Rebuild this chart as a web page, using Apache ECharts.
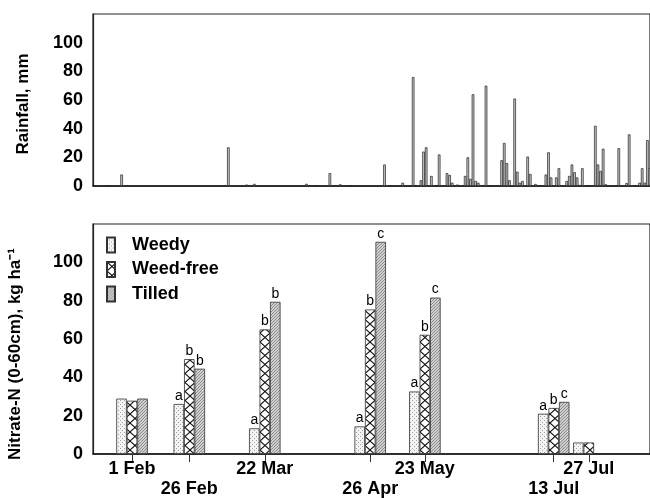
<!DOCTYPE html>
<html>
<head>
  <meta charset="utf-8">
  <title>Rainfall and nitrate-N</title>
  <script src="https://cdn.jsdelivr.net/npm/echarts@6/dist/echarts.min.js"></script>
  <style>
    html, body {
      margin: 0;
      padding: 0;
      background: #fff;
    }
  </style>
</head>
<body>
  <div id="main" style="width: 650px;height: 498px;"></div>
  <script>
    // daily rainfall, day of year and mm
    var rainDay = [23, 28, 69, 76, 79, 99, 103, 108, 112, 116, 129, 136, 140, 141, 143,
      144, 145, 147, 149, 150, 153, 154, 155, 157, 160, 161, 162, 163, 164, 165,
      168, 169, 174, 175, 176, 177, 179, 180, 181, 182, 184, 185, 187, 191, 192,
      193, 195, 196, 199, 200, 201, 202, 203, 204, 205, 207, 210, 211, 212, 213,
      214, 219, 222, 223, 227, 228, 229, 230, 231];
    var rainMm = [0.5, 8, 27, 1, 1.5, 1.5, 0.5, 9, 1.2, 0.5, 15, 2.3, 76, 0.5, 4,
      24, 27, 7, 0.5, 22, 9, 7.7, 2.3, 1, 7, 20, 5, 64, 3.5, 2.3,
      70, 0.5, 18, 30, 16, 4, 61, 10, 2.3, 3.5, 20.5, 8.4, 1.4, 8, 23.5,
      6, 6, 12.4, 3.5, 7, 15, 9.6, 6, 0.7, 12.4, 0.5, 42, 15, 10.5, 26,
      1.2, 26.4, 2, 36, 2.3, 12.4, 2.3, 32, 12.4];

    // soil sampling dates, placed on the season axis (day of year) as drawn
    var sampleLabels = ['1 Feb', '26 Feb', '22 Mar', '26 Apr', '23 May', '13 Jul', '27 Jul'];
    var sampleDay = [32, 54, 83, 123.5, 144.5, 194, 207.5];

    var weedy = [28.9, 26.1, 13.4, 14.4, 32.6, 21, 6];
    var weedFree = [27.8, 49.5, 65, 75.4, 62.2, 24, 6];
    var tilled = [28.9, 44.5, 79.4, 110.7, 81.6, 27.2, null];

    var weedyLetters = ['', 'a', 'a', 'a', 'a', 'a', ''];
    var weedFreeLetters = ['', 'b', 'b', 'b', 'b', 'b', ''];
    var tilledLetters = ['', 'b', 'b', 'c', 'c', 'c', ''];

    var FONT = '"Liberation Sans", Arial, sans-serif';

    function pattern(w, h, draw) {
      var c = document.createElement('canvas');
      c.width = w;
      c.height = h;
      draw(c.getContext('2d'));
      return { image: c, repeat: 'repeat' };
    }
    var lightDots = pattern(4, 4, function (ctx) {
      ctx.fillStyle = '#f4f4f4';
      ctx.fillRect(0, 0, 4, 4);
      ctx.fillStyle = '#a0a0a0';
      ctx.fillRect(0, 0, 1, 1);
      ctx.fillRect(2, 2, 1, 1);
    });
    var crossHatch = pattern(10, 9, function (ctx) {
      ctx.fillStyle = '#fff';
      ctx.fillRect(0, 0, 10, 9);
      ctx.strokeStyle = '#111';
      ctx.lineWidth = 1.1;
      ctx.beginPath();
      ctx.moveTo(0, 0); ctx.lineTo(10, 9);
      ctx.moveTo(10, 0); ctx.lineTo(0, 9);
      ctx.stroke();
    });
    var darkDots = pattern(3, 3, function (ctx) {
      ctx.fillStyle = '#d0d0d0';
      ctx.fillRect(0, 0, 3, 3);
      ctx.fillStyle = '#8c8c8c';
      ctx.fillRect(0, 0, 1, 1);
      ctx.fillRect(2, 1, 1, 1);
      ctx.fillRect(1, 2, 1, 1);
    });

    function pairs(xs, ys) {
      var out = [];
      for (var i = 0; i < xs.length; i++) {
        out.push([xs[i], ys[i]]);
      }
      return out;
    }

    // labels alternate between two rows under the axis
    var rowOneDays = sampleDay.filter(function (d, i) { return i % 2 === 0; });
    var rowTwoDays = sampleDay.filter(function (d, i) { return i % 2 === 1; });
    function dateLabel(v) {
      return sampleLabels[sampleDay.indexOf(v)];
    }

    function nitrateSeries(name, values, letters, fill) {
      return {
        name: name,
        type: 'bar',
        xAxisIndex: 1,
        yAxisIndex: 1,
        barWidth: 10.5,
        barGap: '0%',
        data: pairs(sampleDay, values),
        itemStyle: {
          color: fill,
          borderColor: '#333',
          borderWidth: 0.8
        },
        label: {
          show: true,
          position: 'top',
          distance: 1,
          fontFamily: FONT,
          fontSize: 14,
          color: '#000',
          formatter: function (p) {
            return letters[p.dataIndex];
          }
        }
      };
    }

    var axisLabelStyle = {
      fontFamily: FONT,
      fontSize: 18,
      fontWeight: 'bold',
      color: '#000'
    };

    var chart = echarts.init(document.getElementById('main'));
    var option = {
      animation: false,
      textStyle: { fontFamily: FONT },
      grid: [
        { left: 93, right: -1, top: 14, height: 172, show: true, borderColor: '#222', borderWidth: 1.2 },
        { left: 93, right: -1, top: 224, height: 234.5, show: true, borderColor: '#222', borderWidth: 1.2 }
      ],
      legend: {
        orient: 'vertical',
        left: 101,
        top: 231,
        icon: 'rect',
        itemWidth: 8,
        itemHeight: 15,
        itemGap: 6.5,
        textStyle: {
          fontFamily: FONT,
          fontSize: 18,
          fontWeight: 'bold',
          color: '#000',
          padding: [0, 0, 0, 12]
        },
        data: ['Weedy', 'Weed-free', 'Tilled']
      },
      xAxis: [
        {
          gridIndex: 0,
          type: 'value',
          min: 17,
          max: 231,
          axisLine: { lineStyle: { color: '#111', width: 1.5 } },
          axisTick: { show: false },
          axisLabel: { show: false },
          splitLine: { show: false }
        },
        {
          gridIndex: 1,
          type: 'value',
          min: 17,
          max: 231,
          axisLine: { lineStyle: { color: '#111', width: 1.5 } },
          axisTick: {
            show: true,
            customValues: sampleDay,
            length: 8,
            lineStyle: { color: '#333' }
          },
          axisLabel: Object.assign({
            customValues: rowOneDays,
            hideOverlap: false,
            margin: 6,
            formatter: dateLabel
          }, axisLabelStyle),
          splitLine: { show: false }
        },
        {
          gridIndex: 1,
          type: 'value',
          min: 17,
          max: 231,
          position: 'bottom',
          offset: 20,
          axisLine: { show: false },
          axisTick: { show: false },
          axisLabel: Object.assign({
            customValues: rowTwoDays,
            hideOverlap: false,
            margin: 6,
            formatter: dateLabel
          }, axisLabelStyle),
          splitLine: { show: false }
        }
      ],
      yAxis: [
        {
          gridIndex: 0,
          type: 'value',
          min: 0,
          max: 120,
          interval: 20,
          axisLine: { show: true, lineStyle: { color: '#222', width: 1.2 } },
          axisTick: { show: false },
          splitLine: { show: false },
          axisLabel: Object.assign({
            margin: 10,
            formatter: function (v) { return v > 100 ? '' : v; }
          }, axisLabelStyle)
        },
        {
          gridIndex: 1,
          type: 'value',
          min: 0,
          max: 120,
          interval: 20,
          axisLine: { show: true, lineStyle: { color: '#222', width: 1.2 } },
          axisTick: { show: false },
          splitLine: { show: false },
          axisLabel: Object.assign({
            margin: 10,
            formatter: function (v) { return v > 100 ? '' : v; }
          }, axisLabelStyle)
        }
      ],
      graphic: [
        {
          type: 'text',
          x: 23,
          y: 104,
          rotation: Math.PI / 2,
          style: {
            text: 'Rainfall, mm',
            font: 'bold 17px ' + FONT,
            fill: '#000',
            align: 'center',
            verticalAlign: 'middle'
          }
        },
        {
          type: 'text',
          x: 15,
          y: 354,
          rotation: Math.PI / 2,
          style: {
            text: 'Nitrate-N (0-60cm), kg ha\u207B\u00B9',
            font: 'bold 17px ' + FONT,
            fill: '#000',
            align: 'center',
            verticalAlign: 'middle'
          }
        }
      ],
      series: [
        {
          name: 'Rainfall',
          type: 'bar',
          xAxisIndex: 0,
          yAxisIndex: 0,
          barWidth: 2.6,
          data: pairs(rainDay, rainMm),
          itemStyle: {
            color: '#c4c4c4',
            borderColor: '#222',
            borderWidth: 0.7
          }
        },
        nitrateSeries('Weedy', weedy, weedyLetters, lightDots),
        nitrateSeries('Weed-free', weedFree, weedFreeLetters, crossHatch),
        nitrateSeries('Tilled', tilled, tilledLetters, darkDots)
      ]
    };
    chart.setOption(option);
  </script>
</body>
</html>
